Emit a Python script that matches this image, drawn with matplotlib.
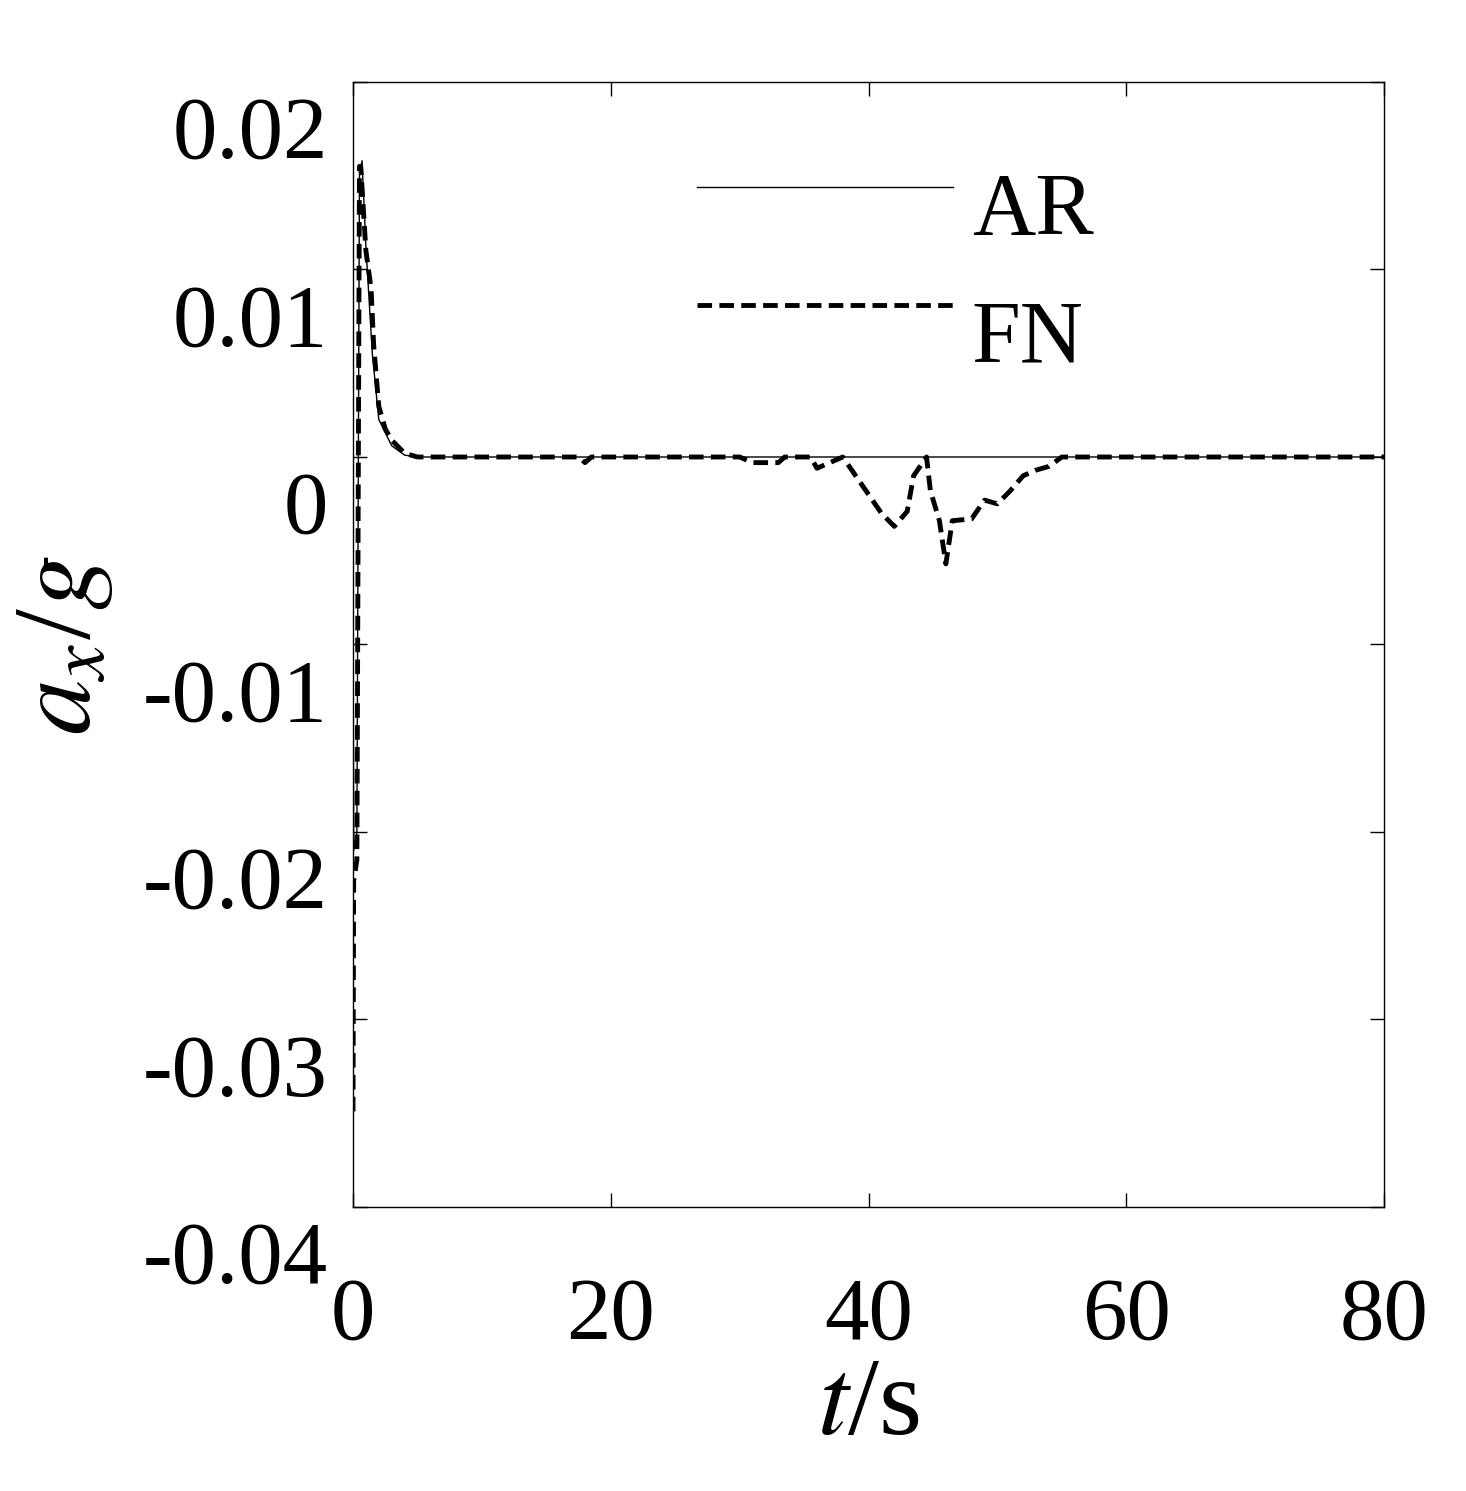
import matplotlib
matplotlib.use("Agg")
import matplotlib.pyplot as plt
import matplotlib.transforms as mtransforms

plt.rcParams['font.family'] = ['Liberation Serif', 'DejaVu Serif']
plt.rcParams['mathtext.fontset'] = 'stix'

t_fn = [0, 0.05, 0.3, 0.5, 0.6, 1.0, 1.4, 1.6, 2.0, 2.5, 3.0, 4.0, 5.0, 17.5, 18.0, 18.5,
        30.0, 31.0, 33.0, 33.5, 35.5, 36.0, 37.0, 38.0, 39.0, 41.0, 42.0, 43.0, 43.5, 44.5,
        44.8, 45.5, 46.0, 46.5, 48.0, 49.0, 50.0, 51.0, 52.0, 53.0, 54.0, 55.0, 80.0]
fn = [-0.0349, -0.0226, -0.0215, 0.0155, 0.0155, 0.0110, 0.0090, 0.0060, 0.0027, 0.0015, 0.0009,
      0.0002, 0.0, 0.0, -0.0003, 0.0, 0.0, -0.0003, -0.0003, 0.0, 0.0, -0.0006, -0.0003, 0.0,
      -0.0010, -0.0030, -0.0037, -0.0029, -0.0010, 0.0, -0.0018, -0.0034, -0.0057, -0.0034,
      -0.0033, -0.0023, -0.0025, -0.0018, -0.0010, -0.0007, -0.0005, 0.0, 0.0]
t_ar = [0, 0.05, 0.3, 0.5, 0.7, 1.0, 1.5, 2.0, 3.0, 4.0, 5.0, 80.0]
ar = [-0.0058, -0.0210, -0.0200, 0.0150, 0.0158, 0.0112, 0.0055, 0.0020, 0.0006, 0.0001, 0.0, 0.0]

fig = plt.figure(figsize=(14.66, 14.91), dpi=100)
ax = fig.add_axes([0.2408, 0.1905, 0.7033, 0.7545])
ax.plot(t_ar, ar, color='black', lw=1.0)
ax.plot(t_fn, fn, color='black', lw=3.5, ls=(0, (3, 1.5)))
ax.set_xlim(0, 80)
ax.set_ylim(-0.04, 0.02)
ax.set_xticks([0, 20, 40, 60, 80])
ax.set_xticklabels(['0', '20', '40', '60', '80'])
ax.set_yticks([-0.04, -0.03, -0.02, -0.01, 0, 0.01, 0.02])
ax.set_yticklabels(['-0.04', '-0.03', '-0.02', '-0.01', '0', '0.01', '0.02'])
ax.tick_params(direction='in', length=10, width=1, top=True, right=True, labelsize=64)
ax.tick_params(axis='x', pad=50)
ax.tick_params(axis='y', pad=18)
off = mtransforms.ScaledTranslation(0, -0.45, fig.dpi_scale_trans)
for lab in ax.get_yticklabels():
    lab.set_transform(lab.get_transform() + off)
for s in ax.spines.values():
    s.set_linewidth(1.0)

ax.set_xlabel('$t$/s', fontsize=80, labelpad=0)
ax.set_ylabel('$a_x$/$g$', fontsize=80, labelpad=20)

ax.plot([0.334, 0.582], [0.907, 0.907], transform=ax.transAxes, color='black', lw=1.0)
ax.plot([0.334, 0.582], [0.802, 0.802], transform=ax.transAxes, color='black', lw=3.5, ls=(0, (3, 1.5)))
ax.text(0.600, 0.884, 'AR', transform=ax.transAxes, fontsize=63, va='center')
ax.text(0.600, 0.771, 'FN', transform=ax.transAxes, fontsize=63, va='center')

fig.savefig('out.png', dpi=100)
